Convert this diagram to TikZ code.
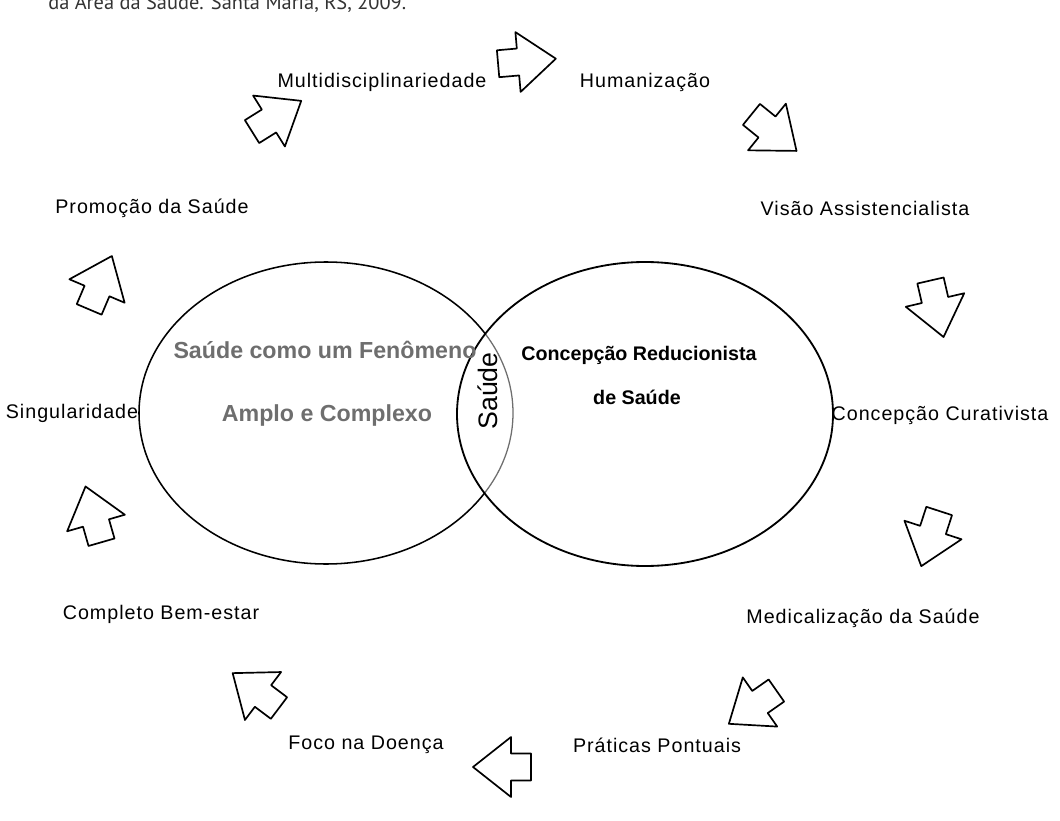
\documentclass[tikz,border=0pt]{standalone}
\usepackage{fontspec}
\setmainfont{Liberation Sans}
\newfontfamily\capfont{PT Sans}
\definecolor{fenogray}{HTML}{6E6E6E}
\definecolor{capgray}{HTML}{333333}
\tikzset{
  blkarrow/.pic={
    \draw[line width=1.2pt] (38,0) -- (0,-30) -- (0,-13.5) -- (-20,-13.5)
      -- (-20,13.5) -- (0,13.5) -- (0,30) -- cycle;
  }
}
\begin{document}
\begin{tikzpicture}[x=0.025cm, y=-0.025cm, line join=round, line cap=round,
    lbl/.style={inner sep=0pt, font=\fontsize{14}{16}\selectfont\addfontfeatures{LetterSpace=5}},
    grytxt/.style={inner sep=0pt, text=fenogray, font=\bfseries\fontsize{16.5}{19}\selectfont},
    boldtxt/.style={inner sep=0pt, font=\bfseries\fontsize{14}{17}\selectfont}]
  \useasboundingbox[fill=white] (0,0) rectangle (1060,821);
  % caption, cut at the top edge
  \node[anchor=base west, inner sep=0pt, text=capgray, font=\capfont\fontsize{14.5}{17}\selectfont] (cap) at (48,10) {da Área da Saúde. Santa Maria, RS, 2009.};
  % the two sets
  \begin{scope}[even odd rule]
    \clip (0,0) rectangle (1060,821) (645,414) ellipse [x radius=188, y radius=152];
    \draw[line width=1.1pt] (326,413) ellipse [x radius=187, y radius=151];
  \end{scope}
  \begin{scope}
    \clip (645,414) ellipse [x radius=188, y radius=152];
    \draw[line width=0.9pt, fenogray] (326,413) ellipse [x radius=187, y radius=151];
  \end{scope}
  \draw[line width=1.3pt] (645,414) ellipse [x radius=188, y radius=152];
  \node[grytxt] (amp1) at (325,350) {Saúde como um Fenômeno};
  \node[grytxt] (amp2) at (327,415) {Amplo e Complexo};
  \node[boldtxt] (red1) at (639,355) {Concepção Reducionista};
  \node[boldtxt] (red2) at (637,397) {de Saúde};
  \node[rotate=90, inner sep=0pt, font=\fontsize{19}{22}\selectfont] (sau) at (488,391) {Saúde};
  % ring of labels
  \foreach \n/\x/\y/\t in {
      multi/382/82/Multidisciplinariedade,
      human/645/82/Humanização,
      visao/865/208/Visão Assistencialista,
      curat/940/415/Concepção Curativista,
      medic/863/618/Medicalização da Saúde,
      prat/657/745/Práticas Pontuais,
      foco/366/745/Foco na Doença,
      bem/161/614/Completo Bem-estar,
      sing/72/413/Singularidade,
      prom/152/208/Promoção da Saúde}
    \node[lbl] (\n) at (\x,\y) {\t};
  % block arrows, clockwise
  \foreach \x/\y/\a in {518/62/5, 767/127/-39, 935/300/-77, 933/530/-108,
      760/702/-145, 511/767/180, 263/696/143, 96/523/106, 97/291/67, 269/121/32}
    \pic[rotate=\a] at (\x,\y) {blkarrow};
\end{tikzpicture}
\end{document}
